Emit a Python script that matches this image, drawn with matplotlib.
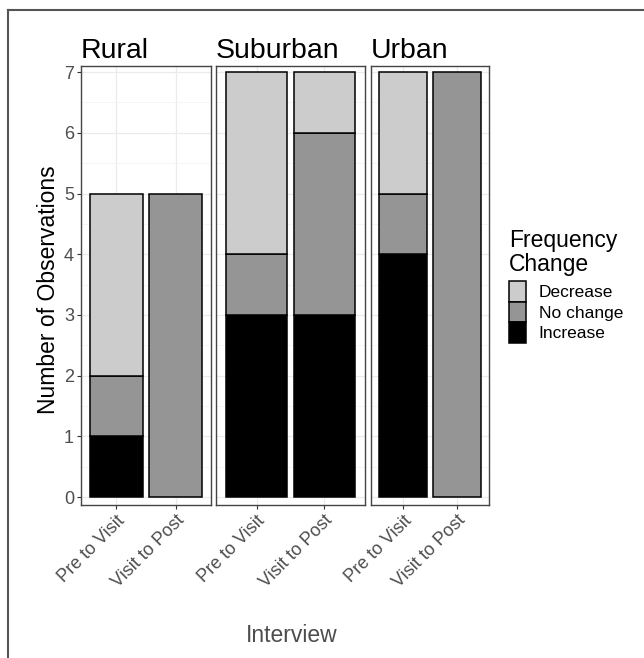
import matplotlib
matplotlib.use("Agg")
import matplotlib.pyplot as plt
from matplotlib.patches import Patch
from matplotlib.lines import Line2D
import numpy as np

plt.rcParams['font.family'] = ['Liberation Sans', 'DejaVu Sans']

regions = ["Rural", "Suburban", "Urban"]
intervals = ["Pre to Visit", "Visit to Post"]
increase = [[1, 0], [3, 3], [4, 0]]
no_change = [[1, 5], [1, 3], [1, 7]]
decrease = [[3, 0], [3, 1], [2, 0]]
levels = ["Decrease", "No change", "Increase"]
colors = {"Increase": "#000000", "No change": "#959595", "Decrease": "#CCCCCC"}

W, H = 644, 658
fig = plt.figure(figsize=(W / 100, H / 100), dpi=100)

# panel extents in pixels (left, right); shared top/bottom
panel_px = [(81, 211), (216, 365), (371, 489)]
top_px, bot_px = 66, 505

for i, (l, r) in enumerate(panel_px):
    ax = fig.add_axes([l / W, 1 - bot_px / H, (r - l) / W, (bot_px - top_px) / H])
    x = np.arange(1, len(intervals) + 1)
    inc = np.array(increase[i])
    noc = np.array(no_change[i])
    dec = np.array(decrease[i])
    kw = dict(width=0.9, edgecolor="black", linewidth=1.1, zorder=3)
    for vals, base, key in [(inc, 0 * inc, "Increase"), (noc, inc, "No change"),
                            (dec, inc + noc, "Decrease")]:
        m = vals > 0
        ax.bar(x[m], vals[m], bottom=base[m], color=colors[key], **kw)
    ax.set_xlim(0.4, 2.6)
    ax.set_ylim(-0.13, 7.1)
    ax.set_xticks(x)
    ax.set_xticklabels(intervals, rotation=45, ha="right", rotation_mode="anchor",
                       fontsize=13, color="#4d4d4d")
    ax.set_yticks(range(0, 8))
    ax.set_yticks(np.arange(0.5, 7, 1), minor=True)
    ax.tick_params(axis="both", which="major", length=3, width=0.8, color="#333333",
                   labelsize=13, labelcolor="#4d4d4d", pad=2)
    ax.tick_params(axis="y", which="minor", length=0)
    ax.grid(True, which="major", color="#EBEBEB", linewidth=0.9, zorder=0)
    ax.grid(True, which="minor", axis="y", color="#F2F2F2", linewidth=0.5, zorder=0)
    ax.set_axisbelow(True)
    for s in ax.spines.values():
        s.set_color("#444444")
        s.set_linewidth(1.0)
    if i > 0:
        ax.tick_params(axis="y", which="both", left=False, labelleft=False)
    ax.set_title(regions[i], loc="left", fontsize=20.5, pad=6, color="black")

fig.text(49 / W, 1 - 290 / H, "Number of Observations", rotation=90,
         ha="center", va="center", fontsize=16.5, color="black")
fig.text(292 / W, 1 - 636 / H, "Interview", ha="center", va="center",
         fontsize=16.5, color="#4d4d4d")

# legend title
fig.text(509 / W, 1 - 229 / H, "Frequency\nChange", ha="left", va="top",
         fontsize=16.5, linespacing=1.05, color="black")
handles = [Patch(facecolor=colors[k], edgecolor="black", linewidth=1.1) for k in levels]
leg = fig.legend(handles, levels, loc="upper left", bbox_to_anchor=(509 / W, 1 - 281 / H),
                 frameon=False, fontsize=12.5,
                 handlelength=1.0, handleheight=1.45,
                 labelspacing=0.0, handletextpad=0.7, borderpad=0, borderaxespad=0)

# outer frame (left and top edges)
fig.add_artist(Line2D([8 / W, 8 / W], [0, 1 - 10 / H], transform=fig.transFigure,
                      color="#555555", linewidth=1.5))
fig.add_artist(Line2D([8 / W, 1], [1 - 10 / H, 1 - 10 / H], transform=fig.transFigure,
                      color="#555555", linewidth=1.5))

fig.savefig("out.png", dpi=100)
